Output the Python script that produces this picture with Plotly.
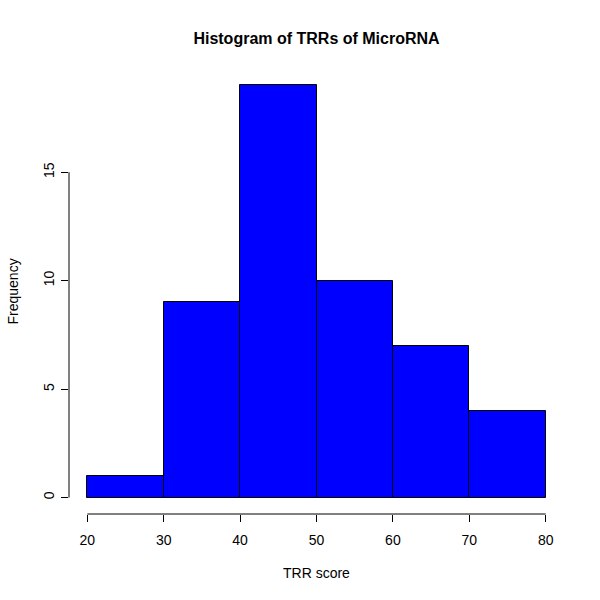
import plotly.graph_objects as go

bin_left = [20, 30, 40, 50, 60, 70]
bin_width = 10
counts = [1, 9, 19, 10, 7, 4]
x_ticks = [20, 30, 40, 50, 60, 70, 80]
y_ticks = [0, 5, 10, 15]

centers = [b + bin_width / 2 for b in bin_left]

fig = go.Figure(go.Bar(
    x=centers, y=counts, width=[bin_width] * len(counts),
    marker=dict(color="#0000FF", line=dict(color="black", width=1)),
    hoverinfo="x+y",
))

font = "Liberation Sans, Arial, Helvetica, sans-serif"
W = H = 600
fig.update_layout(
    width=W, height=H,
    margin=dict(l=69, r=36, t=69, b=86, autoexpand=False),
    plot_bgcolor="white", paper_bgcolor="white",
    bargap=0, showlegend=False,
    font=dict(family=font, size=14, color="black"),
    title=dict(text="<b>Histogram of TRRs of MicroRNA</b>", x=0.5, xref="paper",
               xanchor="center", y=1 - 38 / H, yref="container", yanchor="middle",
               font=dict(size=16, family=font, color="black")),
    xaxis=dict(range=[17.6, 82.4], tickvals=x_ticks, ticks="outside", ticklen=7,
               tickcolor="black", showgrid=False, zeroline=False, showline=False,
               automargin=False, ticklabelstandoff=6),
    yaxis=dict(range=[-0.76, 19.76], tickvals=y_ticks, ticks="outside", ticklen=7,
               tickcolor="black", tickangle=-90, showgrid=False, zeroline=False,
               showline=False, automargin=False, ticklabelstandoff=1),
    annotations=[
        dict(text="TRR score", xref="paper", yref="paper", x=0.5, y=0,
             xanchor="center", yanchor="middle", yshift=-59, showarrow=False,
             font=dict(size=14)),
        dict(text="Frequency", xref="paper", yref="paper", x=0, y=0.5,
             xanchor="center", yanchor="middle", xshift=-57, textangle=-90,
             showarrow=False, font=dict(size=14)),
    ],
    shapes=[
        dict(type="line", xref="x", yref="paper", x0=x_ticks[0], x1=x_ticks[-1],
             y0=0, y1=0, line=dict(color="black", width=1)),
        dict(type="line", xref="paper", yref="y", x0=0, x1=0,
             y0=y_ticks[0], y1=y_ticks[-1], line=dict(color="black", width=1)),
    ],
)

fig.write_html("out.html", config={"displayModeBar": False},
               post_script="document.body.style.margin='0';document.body.style.overflow='hidden';")
